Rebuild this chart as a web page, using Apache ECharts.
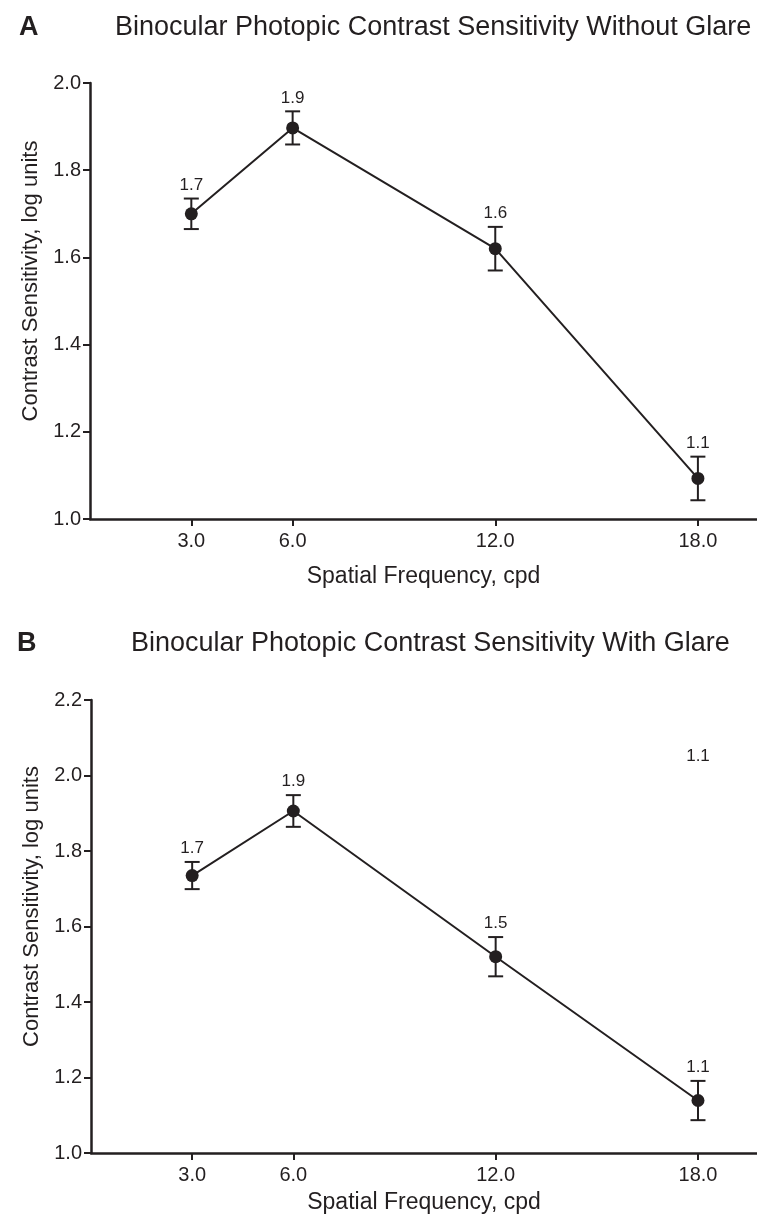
<!DOCTYPE html>
<html>
<head>
<meta charset="utf-8">
<script src="https://cdn.jsdelivr.net/npm/echarts@6/dist/echarts.min.js"></script>
<style>
  html, body { margin: 0; padding: 0; background: #fff; }
  #main { width: 757px; height: 1222px; }
</style>
</head>
<body>
<div id="main"></div>
<script>
(function() {

    // spatial frequencies (cpd)
    var freqs = [3, 6, 12, 18];

    // panel A - without glare
    var meanA = [1.70, 1.897, 1.62, 1.093];
    var errA = [0.035, 0.038, 0.05, 0.05];
    var labelsA = ['1.7', '1.9', '1.6', '1.1'];

    // panel B - with glare
    var meanB = [1.735, 1.906, 1.52, 1.139];
    var errB = [0.036, 0.042, 0.052, 0.052];
    var labelsB = ['1.7', '1.9', '1.5', '1.1'];
    // stray label that sits high up in panel B
    var strayB = [[18, 2.05, '1.1']];

    var ink = '#231f20';
    var font = '"Liberation Sans", Arial, sans-serif';

    function errData(mean, err, labels) {
        return freqs.map(function(f, i) {
            return [f, mean[i] - err[i], mean[i] + err[i], labels[i]];
        });
    }

    function lineData(mean) {
        return freqs.map(function(f, i) {
            return [f, mean[i]];
        });
    }

    // error bar + value label above the upper cap
    function renderErr(params, api) {
        var x = api.value(0);
        var lo = api.coord([x, api.value(1)]);
        var hi = api.coord([x, api.value(2)]);
        var cap = 7.5;
        var st = { stroke: ink, lineWidth: 2 };
        return {
            type: 'group',
            children: [
                { type: 'line', shape: { x1: hi[0], y1: hi[1], x2: lo[0], y2: lo[1] }, style: st },
                { type: 'line', shape: { x1: hi[0] - cap, y1: hi[1], x2: hi[0] + cap, y2: hi[1] }, style: st },
                { type: 'line', shape: { x1: lo[0] - cap, y1: lo[1], x2: lo[0] + cap, y2: lo[1] }, style: st },
                {
                    type: 'text',
                    x: hi[0], y: hi[1] - 5,
                    style: {
                        text: api.value(3),
                        fill: ink,
                        font: '17px ' + font,
                        align: 'center',
                        verticalAlign: 'bottom'
                    }
                }
            ]
        };
    }

    function xAxis(idx) {
        return {
            type: 'value',
            gridIndex: idx,
            min: 0,
            max: 19.75,
            name: 'Spatial Frequency, cpd',
            nameLocation: 'middle',
            nameGap: idx === 0 ? 46 : 38,
            nameTextStyle: { fontSize: 23, color: ink, fontFamily: font },
            axisLine: { lineStyle: { color: ink, width: 2.5 } },
            axisTick: { customValues: freqs, length: 7, lineStyle: { color: ink, width: 2 } },
            axisLabel: {
                customValues: freqs,
                margin: 12,
                fontSize: 20,
                color: ink,
                fontFamily: font,
                formatter: function(v) { return v.toFixed(1); }
            },
            splitLine: { show: false }
        };
    }

    function yAxis(idx, max) {
        return {
            type: 'value',
            gridIndex: idx,
            min: 1.0,
            max: max,
            interval: 0.2,
            name: 'Contrast Sensitivity, log units',
            nameLocation: 'middle',
            nameGap: 48,
            nameTextStyle: { fontSize: 22, color: ink, fontFamily: font, padding: [0, 0, 0, 40] },
            axisLine: { show: true, lineStyle: { color: ink, width: 2.5 } },
            axisTick: { show: true, length: 7, lineStyle: { color: ink, width: 2 } },
            axisLabel: {
                margin: 9,
                fontSize: 20,
                color: ink,
                fontFamily: font,
                formatter: function(v) { return v.toFixed(1); }
            },
            splitLine: { show: false }
        };
    }

    var chart = echarts.init(document.getElementById('main'), null, { renderer: 'canvas' });

    var option = {
        backgroundColor: '#fff',
        animation: false,
        title: [
            { text: 'A', left: 14, top: 9, textStyle: { fontSize: 27, fontWeight: 'bold', color: ink, fontFamily: font } },
            { text: 'Binocular Photopic Contrast Sensitivity Without Glare', left: 110, top: 9,
              textStyle: { fontSize: 27, fontWeight: 'normal', color: ink, fontFamily: font } },
            { text: 'B', left: 12, top: 625, textStyle: { fontSize: 27, fontWeight: 'bold', color: ink, fontFamily: font } },
            { text: 'Binocular Photopic Contrast Sensitivity With Glare', left: 126, top: 625,
              textStyle: { fontSize: 27, fontWeight: 'normal', color: ink, fontFamily: font } }
        ],
        grid: [
            { left: 90, right: 0, top: 83, height: 436 },
            { left: 91, right: 0, top: 700, height: 453 }
        ],
        xAxis: [xAxis(0), xAxis(1)],
        yAxis: [yAxis(0, 2.0), yAxis(1, 2.2)],
        series: [
            {
                type: 'custom', xAxisIndex: 0, yAxisIndex: 0,
                renderItem: renderErr, data: errData(meanA, errA, labelsA), z: 2
            },
            {
                type: 'line', xAxisIndex: 0, yAxisIndex: 0,
                data: lineData(meanA),
                symbol: 'circle', symbolSize: 13,
                lineStyle: { color: ink, width: 2 },
                itemStyle: { color: ink }, z: 3
            },
            {
                type: 'custom', xAxisIndex: 1, yAxisIndex: 1,
                renderItem: renderErr, data: errData(meanB, errB, labelsB), z: 2
            },
            {
                type: 'line', xAxisIndex: 1, yAxisIndex: 1,
                data: lineData(meanB),
                symbol: 'circle', symbolSize: 13,
                lineStyle: { color: ink, width: 2 },
                itemStyle: { color: ink }, z: 3
            },
            {
                type: 'scatter', xAxisIndex: 1, yAxisIndex: 1,
                data: strayB, symbolSize: 0,
                itemStyle: { color: ink, opacity: 1 },
                label: {
                    show: true, position: 'inside', fontSize: 17, color: ink, fontFamily: font,
                    formatter: function(p) { return p.value[2]; }
                }
            }
        ]
    };

    chart.setOption(option);

})();
</script>
</body>
</html>
